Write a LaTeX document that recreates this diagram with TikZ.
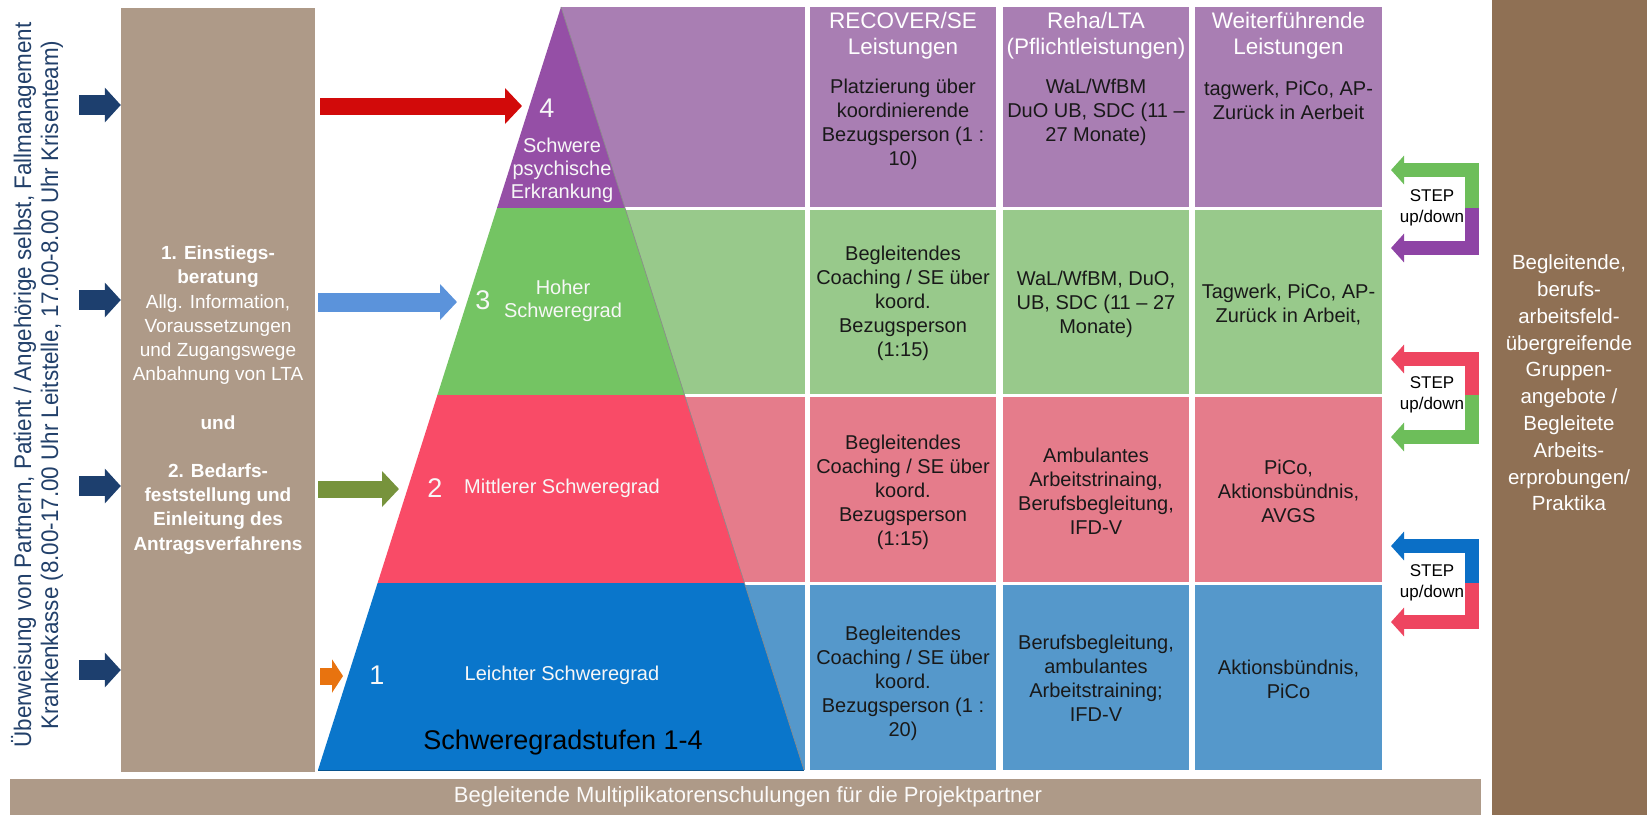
\documentclass[tikz,border=0pt]{standalone}
\usepackage{fontspec}
\setmainfont{Liberation Sans}
\usetikzlibrary{arrows.meta}
\definecolor{ctan}{HTML}{AE9A88}
\definecolor{cbrown}{HTML}{8F7054}
\definecolor{ppurple}{HTML}{954FA6}
\definecolor{lpurple}{HTML}{A97EB3}
\definecolor{pgreen}{HTML}{74C463}
\definecolor{lgreen}{HTML}{98C98B}
\definecolor{pred}{HTML}{F94B67}
\definecolor{lred}{HTML}{E57C8B}
\definecolor{pblue}{HTML}{0A76CB}
\definecolor{lblue}{HTML}{5598CB}
\definecolor{navy}{HTML}{1D3F6E}
\definecolor{ared}{HTML}{D20A0A}
\definecolor{ablue}{HTML}{5B93DB}
\definecolor{agreen}{HTML}{77933C}
\definecolor{aorange}{HTML}{E8730F}
\definecolor{sgreen}{HTML}{6DBE5A}
\definecolor{spurple}{HTML}{8E44A5}
\definecolor{sred}{HTML}{EE4560}
\definecolor{sblue}{HTML}{0B6FC6}
\definecolor{txtnavy}{HTML}{22406A}
\newcommand\fsz[2]{\fontsize{#1}{#2}\selectfont}
\begin{document}
\begin{tikzpicture}[x=1pt,y=-1pt,
  hdr/.style={text=white, align=center, inner sep=0pt, font=\fsz{22.5}{26}},
  body/.style={text=black!90, align=center, inner sep=0pt, font=\fsz{20}{24}},
  plabel/.style={text=white!94!gray, align=center, inner sep=0pt, font=\fsz{20}{23}},
  pnum/.style={text=white!94!gray, inner sep=0pt, font=\fsz{27}{30}},
  navyarr/.style={draw=navy, line width=20pt, -{Triangle[length=16pt,width=34pt]}},
  colarr/.style={line width=17pt, -{Triangle[length=17pt,width=35pt]}},
  steparr/.style={line width=14pt, line join=miter, -{Triangle[length=13pt,width=28pt]}},
  steptext/.style={text=black, align=center, inner sep=0pt, font=\fsz{17}{21.5}},
  boxtext/.style={text=white, align=center, inner sep=0pt}
]
\useasboundingbox (0,0) rectangle (1647,815);
\fill[white] (0,0) rectangle (1647,815);

% side boxes and bottom bar
\node[fill=ctan, minimum width=194pt, minimum height=764pt, inner sep=0pt] (lbox) at (218,390) {};
\node[fill=cbrown, minimum width=155pt, minimum height=815pt, inner sep=0pt] (rbox) at (1569.5,407.5) {};
\node[fill=ctan, minimum width=1471pt, minimum height=36pt, inner sep=0pt] (bbar) at (745.5,797) {};
\node[boxtext, text=white!95!ctan, font=\fsz{22}{26}] (btext) at (748,797) {Begleitende Multiplikatorenschulungen für die Projektpartner};

% rotated referral text
\node[rotate=90, text=txtnavy, align=center, font=\fsz{24}{27}, inner sep=0pt] (refer) at (37,385)
  {\scalebox{0.934}[1]{Überweisung von Partnern, Patient / Angehörige selbst, Fallmanagement}\\
   \scalebox{0.934}[1]{Krankenkasse (8.00-17.00 Uhr Leitstelle, 17.00-8.00 Uhr Krisenteam)}};

% left box text
\node[boxtext, font=\fsz{19}{24.2}] (ltext) at (218,400)
  {\textbf{1. Einstiegs-}\\\textbf{beratung}\\Allg. Information,\\Voraussetzungen\\und Zugangswege\\Anbahnung von LTA\\[24.2pt]
   \textbf{und}\\[24.2pt]\textbf{2. Bedarfs-}\\\textbf{feststellung und}\\\textbf{Einleitung des}\\\textbf{Antragsverfahrens}};

% right box text
\node[boxtext, font=\fsz{20.5}{26.8}] (rtext) at (1569,383)
  {Begleitende,\\berufs-\\arbeitsfeld-\\übergreifende\\Gruppen-\\angebote /\\Begleitete\\Arbeits-\\erprobungen/\\Praktika};

% light background bands behind pyramid
\fill[lpurple] (561,7) rectangle (805,207);
\fill[lgreen] (561,210) rectangle (805,394);
\fill[lred] (561,397) rectangle (805,582);
\fill[lblue] (561,585) rectangle (805,770);

% table cells
\foreach \xa/\xb in {810/996, 1003/1189, 1195/1382}{
  \fill[lpurple] (\xa,7) rectangle (\xb,207);
  \fill[lgreen] (\xa,210) rectangle (\xb,394);
  \fill[lred] (\xa,397) rectangle (\xb,582);
  \fill[lblue] (\xa,585) rectangle (\xb,770);
}

% pyramid
\coordinate (apex) at (561,7);
\coordinate (b4l) at (497,208);   \coordinate (b4r) at (625,208);
\coordinate (b3l) at (437.4,395); \coordinate (b3r) at (684.6,395);
\coordinate (b2l) at (377.6,583); \coordinate (b2r) at (744.4,583);
\coordinate (b1l) at (318,770);   \coordinate (b1r) at (804,770);
\fill[ppurple] (apex) -- (b4r) -- (b4l) -- cycle;
\fill[pgreen] (b4l) -- (b4r) -- (b3r) -- (b3l) -- cycle;
\fill[pred] (b3l) -- (b3r) -- (b2r) -- (b2l) -- cycle;
\fill[pblue] (b2l) -- (b2r) -- (b1r) -- (b1l) -- cycle;
\draw[black!45, line width=0.7pt] (apex) -- (b1r);
\draw[pblue!70!black, line width=0.8pt] (b1l) -- (b1r);

% pyramid labels
\node[pnum] (n4) at (547,108) {4};
\node[plabel] (t4) at (562,170) {Schwere\\psychische\\Erkrankung};
\node[pnum] (n3) at (483,300) {3};
\node[plabel] (t3) at (563,301) {Hoher\\Schweregrad};
\node[pnum] (n2) at (435,488) {2};
\node[plabel] (t2) at (562,488) {Mittlerer Schweregrad};
\node[pnum] (n1) at (377,675) {1};
\node[plabel] (t1) at (562,675) {Leichter Schweregrad};
\node[text=black, inner sep=0pt, font=\fsz{27}{30}] (stufen) at (563,743) {Schweregradstufen 1-4};

% column headers
\node[hdr] (h1) at (903,36) {RECOVER/SE\\Leistungen};
\node[hdr] (h2) at (1096,36) {Reha/LTA\\(Pflichtleistungen)};
\node[hdr] (h3) at (1288.5,36) {Weiterführende\\Leistungen};

% cell texts
\node[body] (c41) at (903,124) {Platzierung über\\koordinierende\\Bezugsperson (1 :\\10)};
\node[body] (c42) at (1096,112) {WaL/WfBM\\DuO UB, SDC (11 –\\27 Monate)};
\node[body] (c43) at (1288.5,100) {tagwerk, PiCo, AP-\\Zurück in Aerbeit};
\node[body] (c31) at (903,303) {Begleitendes\\Coaching / SE über\\koord.\\Bezugsperson\\(1:15)};
\node[body] (c32) at (1096,304) {WaL/WfBM, DuO,\\UB, SDC (11 – 27\\Monate)};
\node[body] (c33) at (1288.5,305) {Tagwerk, PiCo, AP-\\Zurück in Arbeit,};
\node[body] (c21) at (903,492) {Begleitendes\\Coaching / SE über\\koord.\\Bezugsperson\\(1:15)};
\node[body] (c22) at (1096,491) {Ambulantes\\Arbeitstrinaing,\\Berufsbegleitung,\\IFD-V};
\node[body] (c23) at (1288.5,491) {PiCo,\\Aktionsbündnis,\\AVGS};
\node[body] (c11) at (903,683) {Begleitendes\\Coaching / SE über\\koord.\\Bezugsperson (1 :\\20)};
\node[body] (c12) at (1096,678) {Berufsbegleitung,\\ambulantes\\Arbeitstraining;\\IFD-V};
\node[body] (c13) at (1288.5,679) {Aktionsbündnis,\\PiCo};

% navy entry arrows
\foreach \i/\yy in {1/105, 2/300, 3/486, 4/670}{
  \coordinate (na\i) at (79,\yy);
  \draw[navyarr] (na\i) -- (lbox.west |- na\i);
}

% coloured arrows into the pyramid
\coordinate (ra) at (320,106);  \coordinate (p4in) at (522,106);
\coordinate (ba) at (318,302);  \coordinate (p3in) at (457,302);
\coordinate (ga) at (318,489);  \coordinate (p2in) at (399,489);
\coordinate (oa) at (320,676);  \coordinate (p1in) at (343,676);
\draw[colarr, ared] (ra) -- (p4in);
\draw[colarr, ablue, line width=19pt] (ba) -- (p3in);
\draw[colarr, agreen] (ga) -- (p2in);
\draw[ aorange, line width=17pt, -{Triangle[length=11pt,width=33pt]}] (oa) -- (p1in);

% STEP up/down arrows
\foreach \k/\ym/\yt/\yb/\ca/\cb in {1/208/170/248/sgreen/spurple, 2/395/359/437/sred/sgreen, 3/583/546/622/sblue/sred}{
  \coordinate (s\k m) at (1471.5,\ym);
  \coordinate (s\k t) at (1391,\yt);
  \coordinate (s\k b) at (1391,\yb);
  \draw[steparr, \ca] (s\k m) -- (s\k m |- s\k t) -- (s\k t);
  \draw[steparr, \cb] (s\k m) -- (s\k m |- s\k b) -- (s\k b);
  \node[steptext] (st\k) at (1432,\ym) {STEP\\up/down};
}
\end{tikzpicture}
\end{document}
